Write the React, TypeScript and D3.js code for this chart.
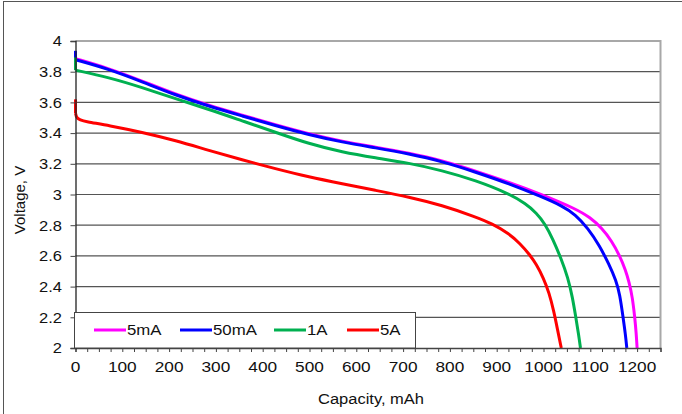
import React, { useEffect, useRef } from 'react';
import * as d3 from 'd3';

const seriesNames = ['5mA', '50mA', '1A', '5A'];
const seriesColors = ['#ff00ff', '#0000ff', '#00b050', '#ff0000'];
// voltage right at 0 mAh before the initial drop
const spikeTop = [3.89, 3.936, 3.893, 3.62];

const cap5mA = [0, 71, 142, 214, 285, 356, 427, 499, 570, 641, 712, 783, 855, 926, 997, 1068, 1100, 1125, 1145, 1163, 1175, 1183, 1190, 1195, 1198, 1200];
const volt5mA = [3.885, 3.822, 3.74, 3.652, 3.58, 3.517, 3.454, 3.394, 3.346, 3.309, 3.27, 3.222, 3.153, 3.08, 3.0, 2.908, 2.85, 2.78, 2.7, 2.6, 2.51, 2.43, 2.33, 2.2, 2.1, 2.0];

const cap50mA = [0, 71, 142, 214, 285, 356, 427, 499, 570, 641, 712, 783, 855, 926, 997, 1040, 1068, 1095, 1120, 1140, 1155, 1163, 1170, 1175, 1178];
const volt50mA = [3.878, 3.817, 3.735, 3.647, 3.575, 3.512, 3.449, 3.389, 3.341, 3.304, 3.265, 3.216, 3.146, 3.071, 2.984, 2.925, 2.87, 2.78, 2.665, 2.545, 2.44, 2.35, 2.2, 2.09, 2.0];

const cap1A = [0, 71, 142, 214, 285, 356, 427, 499, 570, 641, 712, 783, 855, 926, 962, 985, 1003, 1020, 1038, 1052, 1062, 1069, 1075, 1079];
const volt1A = [3.81, 3.763, 3.698, 3.623, 3.555, 3.48, 3.406, 3.33, 3.276, 3.239, 3.205, 3.157, 3.092, 3.006, 2.94, 2.88, 2.81, 2.71, 2.58, 2.46, 2.33, 2.2, 2.09, 2.0];

const cap5A = [0, 2, 10, 21, 71, 142, 214, 285, 356, 427, 499, 570, 641, 712, 783, 855, 890, 926, 950, 970, 985, 1000, 1012, 1022, 1030, 1038];
const volt5A = [3.53, 3.5, 3.485, 3.475, 3.45, 3.406, 3.352, 3.287, 3.226, 3.168, 3.114, 3.07, 3.027, 2.984, 2.93, 2.854, 2.81, 2.746, 2.68, 2.61, 2.545, 2.455, 2.36, 2.24, 2.12, 2.0];

const seriesCaps = [cap5mA, cap50mA, cap1A, cap5A];
const seriesVolts = [volt5mA, volt50mA, volt1A, volt5A];

const xTicks = d3.range(0, 1201, 100);
const xMinorTicks = d3.range(0, 1251, 25);
const yTicks = d3.range(2, 4.0001, 0.2).map((v) => Math.round(v * 10) / 10);

export default function App() {
  const svgRef = useRef<SVGSVGElement>(null);

  useEffect(() => {
    if (!svgRef.current) return;
    const width = 682;
    const height = 414;
    const margin = { top: 41, right: 21.5, bottom: 66, left: 75.5 };
    const font = "'Liberation Sans', Arial, sans-serif";

    const svg = d3.select(svgRef.current);
    svg.selectAll('*').remove();
    svg.attr('width', width).attr('height', height);

    // text helper, glyphs in the picture are a bit wide
    const label = (
      g: d3.Selection<any, unknown, null, undefined>,
      tx: number,
      ty: number,
      text: string,
      size: number,
      sx: number,
      anchor = 'start',
      rot = 0
    ) =>
      g
        .append('text')
        .attr('transform', `translate(${tx},${ty}) rotate(${rot}) scale(${sx},1)`)
        .attr('text-anchor', anchor)
        .attr('font-family', font)
        .attr('font-size', size)
        .attr('fill', '#111')
        .text(text);

    svg.append('rect').attr('width', width).attr('height', height).attr('fill', '#fff');
    // outer frame
    svg
      .append('rect')
      .attr('x', 3.5)
      .attr('y', 1.5)
      .attr('width', width + 10)
      .attr('height', height + 10)
      .attr('fill', 'none')
      .attr('stroke', '#555')
      .attr('stroke-width', 1);

    const x = d3.scaleLinear().domain([0, 1250]).range([margin.left, width - margin.right]);
    const y = d3.scaleLinear().domain([2, 4]).range([height - margin.bottom, margin.top]);

    // grid
    svg
      .append('g')
      .selectAll('line')
      .data(yTicks.filter((v) => v > 2 && v < 4))
      .join('line')
      .attr('x1', x(0))
      .attr('x2', x(1250))
      .attr('y1', (d) => y(d))
      .attr('y2', (d) => y(d))
      .attr('stroke', '#555')
      .attr('stroke-width', 1.2);

    // plot area top and right border (gray)
    svg
      .append('path')
      .attr('d', `M${x(0)},${y(4)}H${x(1250)}V${y(2)}`)
      .attr('fill', 'none')
      .attr('stroke', '#a8a8a8')
      .attr('stroke-width', 2);

    // curves
    const line = d3
      .line<[number, number]>()
      .x((d) => x(d[0]))
      .y((d) => y(d[1]))
      .curve(d3.curveBasis);

    seriesNames.forEach((_, i) => {
      const pts = seriesCaps[i].map((c, j) => [c, seriesVolts[i][j]] as [number, number]);
      const g = svg.append('g').attr('fill', 'none').attr('stroke', seriesColors[i]).attr('stroke-width', 3);
      g.append('path').attr('d', `M${x(0)},${y(spikeTop[i])}V${y(pts[0][1])}`);
      g.append('path').attr('d', line(pts)).attr('stroke-linejoin', 'round');
    });

    // x axis
    const xAxis = d3
      .axisBottom(x)
      .tickValues(xMinorTicks)
      .tickSize(4)
      .tickFormat(() => '');
    const gx = svg.append('g').attr('transform', `translate(0,${y(2)})`).call(xAxis as any);
    gx.select('.domain').attr('stroke', '#444').attr('stroke-width', 1.3);
    gx.selectAll('.tick line').attr('stroke', '#444');

    const gxl = svg.append('g');
    xTicks.forEach((t) => label(gxl, x(t), y(2) + 23.5, String(t), 15, 1.15, 'middle'));

    // y axis
    const yAxis = d3
      .axisLeft(y)
      .tickValues(yTicks)
      .tickSize(5)
      .tickFormat(() => '');
    const gy = svg.append('g').attr('transform', `translate(${x(0)},0)`).call(yAxis as any);
    gy.select('.domain').attr('stroke', '#222').attr('stroke-width', 1.3);
    gy.selectAll('.tick line').attr('stroke', '#444');

    const gyl = svg.append('g');
    yTicks.forEach((t) => label(gyl, x(0) - 13.5, y(t) + 5.3, String(t), 15, 1.1, 'end'));

    // axis titles
    label(svg, 371, 403.5, 'Capacity, mAh', 15, 1.1, 'middle');
    label(svg, 25, 200, 'Voltage, V', 15, 1, 'middle', -90);

    // legend
    const lg = svg.append('g');
    lg.append('rect')
      .attr('x', 74.5)
      .attr('y', 312.5)
      .attr('width', 341)
      .attr('height', y(2) - 312.5)
      .attr('fill', '#fff')
      .attr('stroke', '#444')
      .attr('stroke-width', 1);
    const legendX = [94, 180, 274, 347];
    seriesNames.forEach((name, i) => {
      lg.append('line')
        .attr('x1', legendX[i])
        .attr('x2', legendX[i] + 32)
        .attr('y1', 330)
        .attr('y2', 330)
        .attr('stroke', seriesColors[i])
        .attr('stroke-width', 3);
      label(lg, legendX[i] + 33, 335, name, 14, 1.2);
    });
  }, []);

  return (
    <div style={{ position: 'fixed', left: 0, top: 0 }}>
      <svg ref={svgRef} style={{ display: 'block' }} />
    </div>
  );
}
